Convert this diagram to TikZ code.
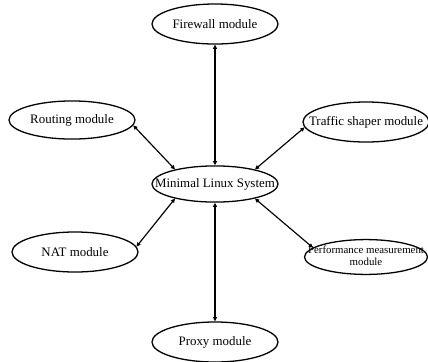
\documentclass[tikz,border=0pt]{standalone}
\usepackage{fontspec}
\setmainfont{Liberation Serif}
\usepackage{tikz}
\usetikzlibrary{arrows.meta,shapes.geometric}

\tikzset{module/.style={draw,ellipse,line width=1pt,minimum width=97.7pt,minimum height=31pt,inner sep=0pt}}
\tikzset{link/.style={<->,line width=0.9pt}}

\begin{document}
\begin{tikzpicture}[line cap=round,line join=round,>={Triangle[length=3.2pt,width=3pt]},x=0.775pt,y=-0.775pt]
\clip(0,0) rectangle (428,361);
\node[module] (fw) at (215,24) {\makebox[0pt]{Firewall module}};
\node[module,minimum height=29.5pt] (route) at (72,120) {\makebox[0pt]{Routing module}};
\node[module] (shaper) at (366,122) {\makebox[0pt]{Traffic shaper module}};
\node[module,minimum height=28pt] (sys) at (215,184) {\makebox[0pt]{Minimal Linux System}};
\node[module] (nat) at (75,252) {\makebox[0pt]{NAT module}};
\node[module,minimum height=27pt,minimum width=95.3pt] (perf) at (366,257) {\makebox[0pt]{\fontsize{8.4}{9}\selectfont\begin{tabular}{@{}c@{}}Performance measurement\\module\end{tabular}}};
\node[module] (proxy) at (215,342) {\makebox[0pt]{Proxy module}};
\draw[link] (fw.south)-- (sys.north);
\draw[link] (route.-5)-- (sys.160);
\draw[link] (shaper.185)-- (sys.20);
\draw[link] (nat.5)-- (sys.200);
\draw[link] (perf.170)-- (sys.340);
\draw[link] (proxy.north)-- (sys.south);
\end{tikzpicture}
\end{document}
